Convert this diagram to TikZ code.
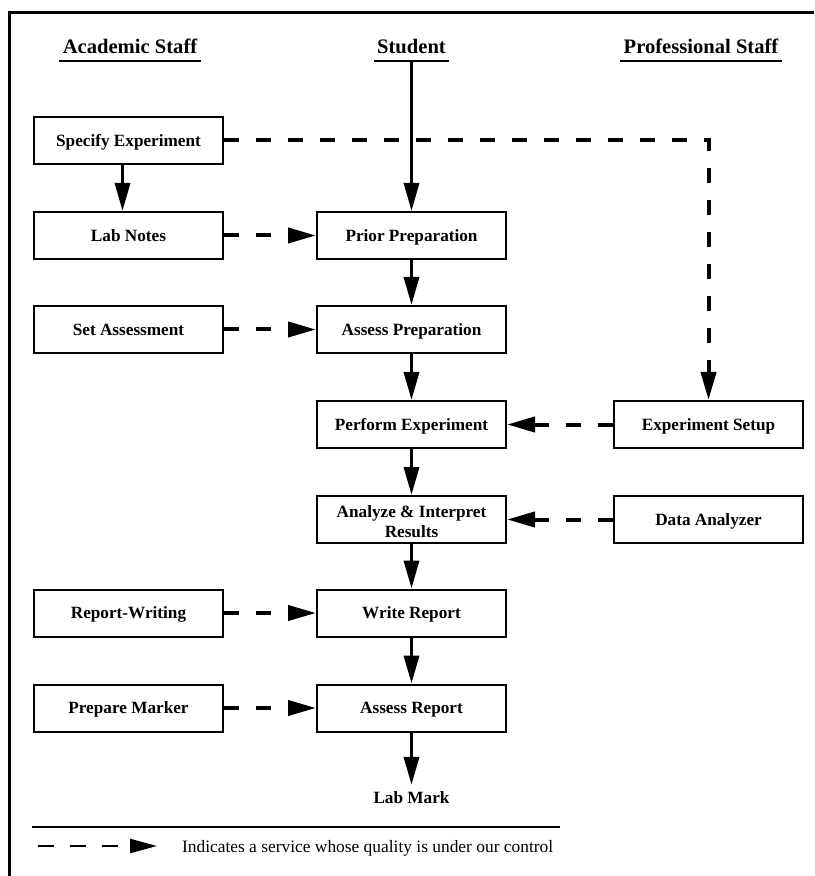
\documentclass[tikz,border=0pt]{standalone}
\usepackage{fontspec}
\setmainfont{Liberation Serif}
\usetikzlibrary{arrows.meta}
\begin{document}
\begin{tikzpicture}[x=0.5pt,y=-0.5pt,
		box/.style={draw,line width=1pt,minimum width=94.5pt,minimum height=23.5pt,inner sep=0pt,align=center,text height=6pt,text depth=0.3pt,font=\fontsize{8.6}{10}\selectfont\bfseries},
		staffhead/.style={font=\fontsize{10.3}{12}\selectfont\bfseries,inner sep=3.5pt},
		flow/.style={line width=1.75pt,-{Triangle[length=14pt,width=7.5pt]}},
		service/.style={line width=2pt,dash pattern=on 7.5pt off 8.5pt,-{Triangle[length=14pt,width=7.5pt]}}]
		\useasboundingbox (0,0) rectangle (814,876);
		\draw[line width=1.5pt] (9,876) -- (9,13) -- (814,13);
		\node[staffhead] (acad) at (130,46) {Academic Staff};
		\node[staffhead] (stud) at (411.5,46) {Student};
		\node[staffhead] (prof) at (701,46) {Professional Staff};
		\draw[line width=1pt] ([xshift=2pt]acad.south west) -- ([xshift=-2pt]acad.south east);
		\draw[line width=1pt] ([xshift=2pt]stud.south west) -- ([xshift=-2pt]stud.south east);
		\draw[line width=1pt] ([xshift=2pt]prof.south west) -- ([xshift=-2pt]prof.south east);
		\node[box] (spec) at (128.5,140.5) {Specify Experiment};
		\node[box] (notes) at (128.5,235.5) {Lab Notes};
		\node[box] (setass) at (128.5,329.5) {Set Assessment};
		\node[box] (repwrite) at (128.5,613) {Report-Writing};
		\node[box] (prepmark) at (128.5,708) {Prepare Marker};
		\node[box] (prior) at (411.5,235.5) {Prior Preparation};
		\node[box] (assprep) at (411.5,329.5) {Assess Preparation};
		\node[box] (perform) at (411.5,424.5) {Perform Experiment};
		\node[box,text height=18pt,text depth=0pt] (analyze) at (411.5,519.5) {Analyze \& Interpret\\Results};
		\node[box] (write) at (411.5,613) {Write Report};
		\node[box] (assrep) at (411.5,708) {Assess Report};
		\node[box] (setup) at (708.5,424.5) {Experiment Setup};
		\node[box] (datan) at (708.5,519.5) {Data Analyzer};
		\node[font=\fontsize{8.6}{10}\selectfont\bfseries] (mark) at (411.5,798) {Lab Mark};
		\draw[flow] (stud.south) -- (prior.north);
		\draw[flow] ([xshift=-3pt]spec.south) -- ([xshift=-3pt]notes.north);
		\draw[flow] (prior) -- (assprep);
		\draw[flow] (assprep) -- (perform);
		\draw[flow] (perform) -- (analyze);
		\draw[flow] (analyze) -- (write);
		\draw[flow] (write) -- (assrep);
		\draw[flow] (assrep) -- (mark);
		\draw[service] (spec.east) -| (setup.north);
		\draw[service] (notes) -- (prior);
		\draw[service] (setass) -- (assprep);
		\draw[service] (setup) -- (perform);
		\draw[service] (datan) -- (analyze);
		\draw[service] (repwrite) -- (write);
		\draw[service] (prepmark) -- (assrep);
		\coordinate (rulel) at (32,827);
		\coordinate (ruler) at (560,827);
		\draw[line width=1pt] (rulel) -- (ruler);
		\coordinate (lega) at (38,846);
		\coordinate (legb) at (157,846);
		\draw[line width=1.2pt,dash pattern=on 8pt off 8pt,-{Triangle[length=13.5pt,width=7pt]}] (lega) -- (legb);
		\node[anchor=west,font=\fontsize{8.7}{10}\selectfont] (legtext) at (175,848) {Indicates a service whose quality is under our control};
	\end{tikzpicture}
\end{document}
